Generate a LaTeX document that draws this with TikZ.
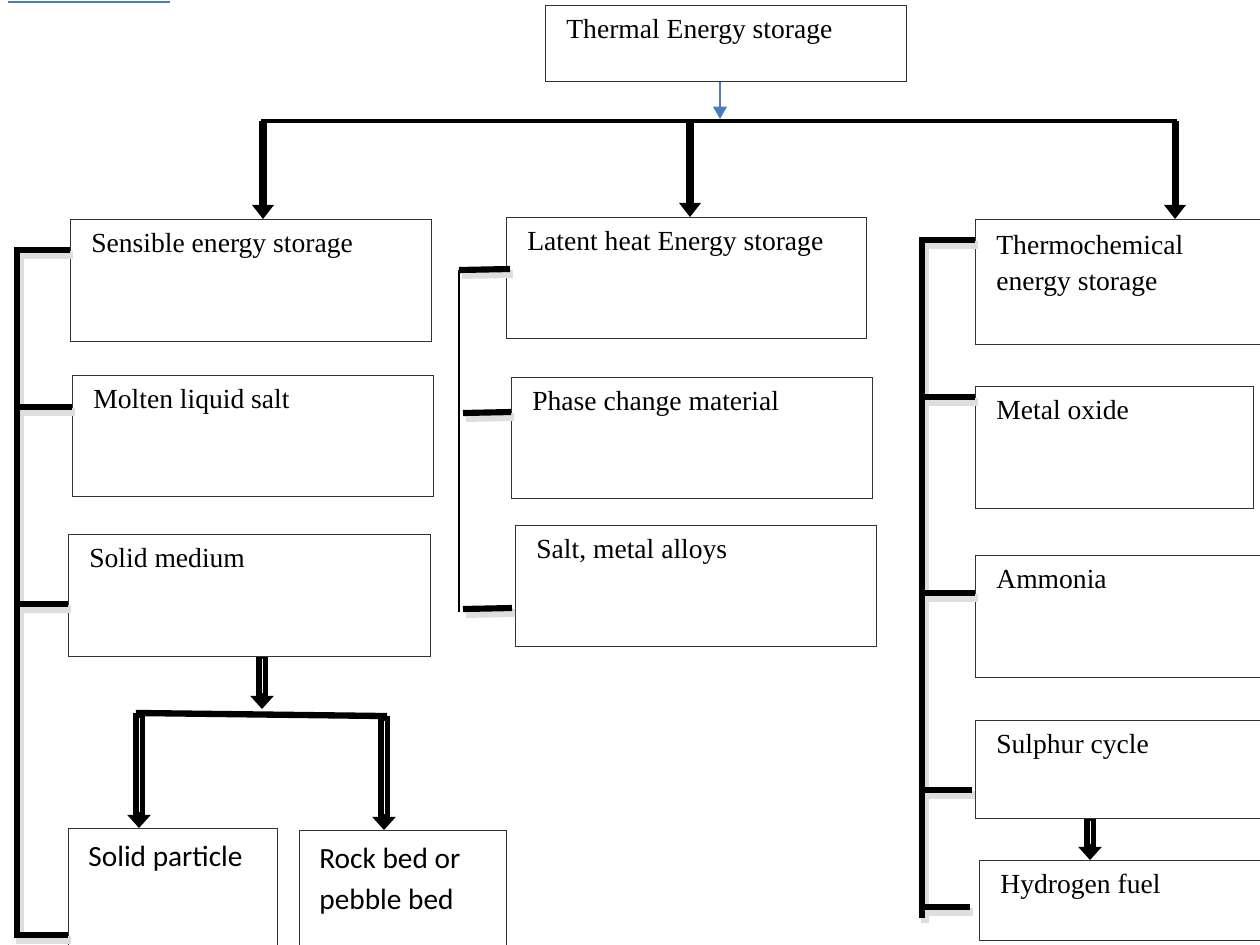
\documentclass[tikz,border=0pt]{standalone}
\usepackage{fontspec}
\setmainfont{Liberation Serif}
\newfontfamily\calfont{Carlito}
\usetikzlibrary{arrows.meta,calc}
\definecolor{arrowblue}{HTML}{4A7EBB}
\newcommand\mybox[7][]{\node[box, minimum width=#5*0.02cm, minimum height=#6*0.02cm, label={[lbl,#1]north west:{#7}}] (#2) at (#3,#4) {};}
\newcommand\mysbox[7][]{\node[box, minimum width=#5*0.02cm, minimum height=#6*0.02cm, label={[slbl,#1]north west:{#7}}] (#2) at (#3,#4) {};}
\tikzset{
  box/.style={draw=black!80, line width=0.75pt, anchor=north west, inner sep=0pt},
  lbl/.style={anchor=base west, inner sep=0pt, label distance=0pt, xshift=21*0.02cm, yshift=-33*0.02cm, align=left, font=\fontsize{15.7}{20.4}\selectfont},
  slbl/.style={anchor=base west, inner sep=0pt, label distance=0pt, xshift=20*0.02cm, yshift=-38*0.02cm, align=left, font=\calfont\fontsize{16.7}{23.2}\selectfont},
  bigarrow/.style={line width=4pt, -{Triangle[width=12.5pt,length=8pt,line width=0pt]}},
  bar/.style={line width=2.8pt, line cap=rect},
  bar2/.style={line width=3.6pt, line cap=rect},
  brk/.style={line width=3.5pt, preaction={draw=black!13, line width=4.5pt, transform canvas={shift={(3,5)}}}},
  thinline/.style={line width=1.1pt},
  bluearrow/.style={draw=arrowblue, line width=1.3pt, -{Triangle[width=8pt,length=7pt,line width=0pt]}},
  dbl/.style={line width=6.5pt, -{Triangle[width=13.5pt,length=7.5pt,line width=0pt]}},
  dblcore/.style={draw=white, line width=0.55pt, shorten >=9pt},
}
\begin{document}
\begin{tikzpicture}[x=0.02cm,y=-0.02cm]
\useasboundingbox (0,0) rectangle (1260,944);
\clip (0,0) rectangle (1260,944);
% hyperlink underline remnant
\draw[arrowblue, line width=1.2pt] (8,2) -- (170,2);
% boxes
\mybox{top}{545}{5}{361}{76}{Thermal Energy storage}
\mybox{sens}{70}{219}{361}{122}{Sensible energy storage}
\mybox{molten}{72}{375}{361}{121}{Molten liquid salt}
\mybox{solidm}{68}{534}{362}{122}{Solid medium}
\mysbox{solidp}{68}{828}{209}{130}{Solid particle}
\mysbox[yshift=-41*0.02cm]{rock}{299}{830}{207}{130}{Rock bed or\\pebble bed}
\mybox{lat}{506}{217}{360}{121}{Latent heat Energy storage}
\mybox{phase}{511}{377}{361}{121}{Phase change material}
\mybox{salt}{515}{525}{361}{121}{Salt, metal alloys}
\mybox[yshift=-38*0.02cm]{thermo}{975}{219}{300}{125}{Thermochemical\\energy storage}
\mybox{metal}{975}{386}{278}{122}{Metal oxide}
\mybox{ammonia}{975}{555}{300}{122}{Ammonia}
\mybox{sulph}{975}{720}{300}{98}{Sulphur cycle}
\mybox{hyd}{979}{860}{300}{80}{Hydrogen fuel}
% top distribution
\coordinate (jB) at (720,119);
\coordinate (jL) at (263,121);
\coordinate (jM) at (690,121);
\coordinate (jR) at (1175,121);
\draw[bluearrow] (jB |- top.south) -- (jB);
\draw[bar] (jL) -- (jR);
\draw[bigarrow] (jL) -- (jL |- sens.north);
\draw[bigarrow] (jM) -- (jM |- lat.north);
\draw[bigarrow] (jR) -- (jR |- thermo.north);
% left bracket
\draw[brk] ($(sens.north west)+(0,31)$) -| ($(solidp.north west)+(-51,107)$) -- ($(solidp.north west)+(0,107)$);
\draw[brk] ($(molten.north west)+(0,32)$) -- ++(-55,0);
\draw[brk] ($(solidm.north west)+(0,70)$) -- ++(-51,0);
% middle bracket
\draw[thinline] ($(lat.north west)+(-47,53)$) -- ($(salt.north west)+(-56,87)$);
\draw[brk] ($(lat.north west)+(-47,53)$) -- ($(lat.north west)+(4,52)$);
\draw[brk] ($(phase.north west)+(-48,36)$) -- ($(phase.north west)+(0,35)$);
\draw[brk] ($(salt.north west)+(-52,84)$) -- ($(salt.north west)+(-3,83)$);
% right bracket
\draw[brk] ($(thermo.north west)+(0,21)$) -| ($(hyd.north west)+(-57,58)$);
\draw[brk] ($(metal.north west)+(0,11)$) -- ++(-53,0);
\draw[brk] ($(ammonia.north west)+(0,38)$) -- ++(-53,0);
\draw[brk] ($(sulph.north west)+(-3,70)$) -- ++(-50,0);
\draw[brk] ($(hyd.north west)+(-9,47)$) -- ++(-48,0);
% solid medium split
\coordinate (jS) at (262,709);
\coordinate (dL) at (139,713);
\coordinate (dR) at (384,716);
\draw[dbl] (jS |- solidm.south) -- (jS);
\draw[dblcore] ($(jS |- solidm.south)+(0,2)$) -- (jS);
\draw[bar2] (dL) -- (dR);
\draw[dbl] (dL) -- (dL |- solidp.north);
\draw[dblcore] ($(dL)+(0,5)$) -- (dL |- solidp.north);
\draw[dbl] (dR) -- (dR |- rock.north);
\draw[dblcore] ($(dR)+(0,5)$) -- (dR |- rock.north);
% sulphur to hydrogen
\draw[dbl] ($(sulph.south west)+(115,0)$) -- ($(hyd.north west)+(111,0)$);
\draw[dblcore] ($(sulph.south west)+(115,2)$) -- ($(hyd.north west)+(111,0)$);
\end{tikzpicture}
\end{document}
